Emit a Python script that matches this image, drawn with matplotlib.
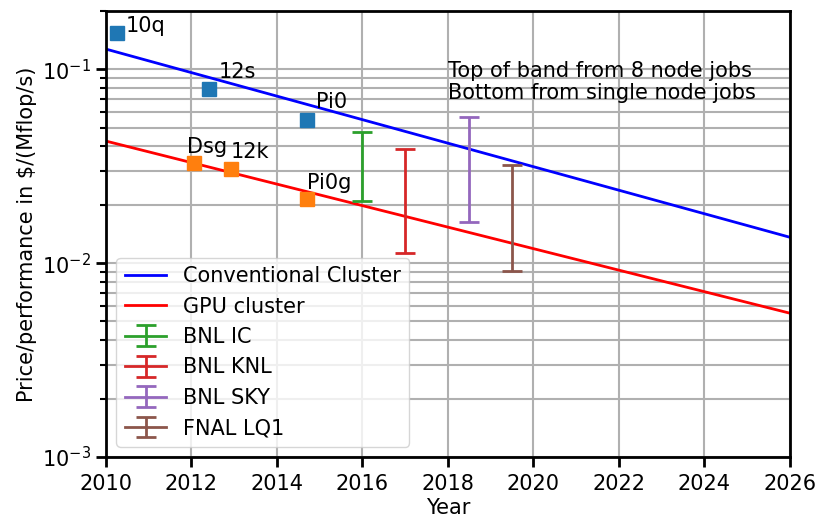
import matplotlib
matplotlib.use("Agg")
import matplotlib.pyplot as plt
import numpy as np

# Trend lines (endpoints)
trend_years = [2010, 2026]
conventional = [0.127, 0.0136]
gpu = [0.0426, 0.00552]

# Conventional cluster machines
conv_names = ["10q", "12s", "Pi0"]
conv_years = [2010.26, 2012.41, 2014.7]
conv_values = [0.153, 0.0789, 0.0546]

# GPU machines
gpu_names = ["Dsg", "12k", "Pi0g"]
gpu_years = [2012.06, 2012.92, 2014.7]
gpu_values = [0.0327, 0.0305, 0.0214]

# Bands
band_names = ["BNL IC", "BNL KNL", "BNL SKY", "FNAL LQ1"]
band_years = [2016.0, 2017.0, 2018.5, 2019.5]
band_top = [0.0473, 0.0387, 0.0564, 0.0320]
band_bottom = [0.0209, 0.0113, 0.01625, 0.0091]
band_colors = ["tab:green", "tab:red", "tab:purple", "tab:brown"]

conv_offsets = [(9, 1), (10, 11), (9, 12)]
gpu_offsets = [(-7, 10), (0, 11), (0, 10)]

fs = 15
fig = plt.figure(figsize=(8.17, 5.17), dpi=100)
ax = fig.add_axes([0.1297, 0.116, 0.837, 0.863])

ax.plot(trend_years, conventional, color="blue", lw=2, label="Conventional Cluster")
ax.plot(trend_years, gpu, color="red", lw=2, label="GPU cluster")

ax.plot(conv_years, conv_values, "s", color="tab:blue", ms=10, ls="none")
ax.plot(gpu_years, gpu_values, "s", color="tab:orange", ms=10, ls="none")

for n, x, y, off in zip(conv_names, conv_years, conv_values, conv_offsets):
    ax.annotate(n, (x, y), xytext=off, textcoords="offset pixels",
                fontsize=fs, ha="left", va="baseline")
for n, x, y, off in zip(gpu_names, gpu_years, gpu_values, gpu_offsets):
    ax.annotate(n, (x, y), xytext=off, textcoords="offset pixels",
                fontsize=fs, ha="left", va="baseline")

for n, x, t, b, c in zip(band_names, band_years, band_top, band_bottom, band_colors):
    ax.errorbar([x], [b], yerr=[[0], [t - b]], color=c, lw=2, capsize=7,
                capthick=2, label=n)

ax.text(2018.0, 0.086, "Top of band from 8 node jobs\nBottom from single node jobs",
        fontsize=fs, ha="left", va="center", linespacing=1.15)

ax.set_yscale("log")
ax.set_xlim(2010, 2026)
ax.set_ylim(1e-3, 0.2)
ax.set_xticks(np.arange(2010, 2027, 2))
ax.grid(True, which="major", axis="both", color="#b0b0b0", lw=1.5)
ax.grid(True, which="minor", axis="y", color="#b0b0b0", lw=1.5)
ax.set_axisbelow(True)

for s in ax.spines.values():
    s.set_linewidth(2)
ax.tick_params(which="major", labelsize=fs, width=2, length=7)
ax.tick_params(axis="x", which="major", pad=5)
ax.tick_params(which="minor", width=1.5, length=4)

ax.set_xlabel("Year", fontsize=fs, labelpad=3)
ax.set_ylabel("Price/performance in \\$/(Mflop/s)", fontsize=fs)

ax.legend(loc="lower left", fontsize=fs, handlelength=2)

fig.savefig("out.png", dpi=100)
